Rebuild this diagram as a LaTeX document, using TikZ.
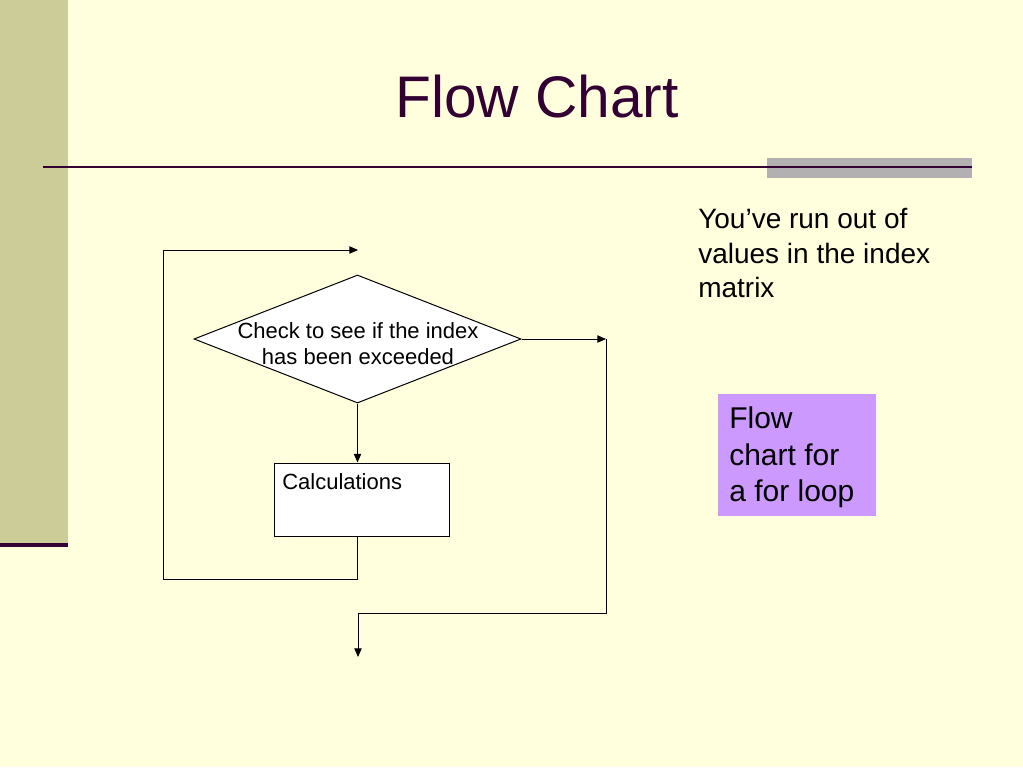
\documentclass[tikz,border=0pt]{standalone}
\usepackage{fontspec}
\setmainfont{Liberation Sans}
\usetikzlibrary{arrows.meta,shapes.geometric}
\definecolor{bgcream}{RGB}{255,255,221}
\definecolor{sidebar}{RGB}{204,204,153}
\definecolor{darkplum}{RGB}{51,0,51}
\definecolor{rulegray}{RGB}{178,176,176}
\definecolor{lilac}{RGB}{204,153,255}
\begin{document}
\begin{tikzpicture}[x=0.75pt,y=-0.75pt,
  conn/.style={line width=0.75pt,draw=black},
  arr/.style={conn,-{Triangle[length=6.5pt,width=5.5pt]}},
  flowtxt/.style={inner sep=0pt,font=\fontsize{16.5pt}{19.5pt}\selectfont},
  sidetxt/.style={inner sep=0pt,anchor=base west,font=\fontsize{21pt}{26pt}\selectfont},
  notetxt/.style={inner sep=0pt,anchor=base west,font=\fontsize{22.5pt}{27pt}\selectfont},
  decision/.style={diamond,draw=black,line width=0.75pt,fill=white,inner sep=0pt,
    minimum width=327*0.75pt,minimum height=128*0.75pt},
  process/.style={rectangle,draw=black,line width=0.75pt,fill=white,inner sep=0pt,
    minimum width=175*0.75pt,minimum height=73*0.75pt}]
% background and slide decoration
\useasboundingbox (0,0) rectangle (1023,767);
\fill[bgcream] (0,0) rectangle (1023,767);
\fill[sidebar] (0,0) rectangle (68,543);
\fill[darkplum] (0,543) rectangle (68,547);
\fill[rulegray] (767,158) rectangle (972,178);
\draw[darkplum,line width=1.5pt] (43,167) -- (972,167);
% title
\node[inner sep=0pt,anchor=base,text=darkplum,font=\fontsize{44pt}{53pt}\selectfont] (title) at (537,117) {Flow Chart};
% flow chart
\node[decision] (d) at (357.5,339) {};
\node[flowtxt,anchor=base] (dt1) at (358,338) {Check to see if the index};
\node[flowtxt,anchor=base] (dt2) at (358,364) {has been exceeded};
\node[process] (calc) at (361.5,499.5) {};
\node[flowtxt,anchor=base west] (calct) at (282,489) {Calculations};
\coordinate (c1) at (163,579);
\coordinate (top) at (358,250);
\coordinate (exitc) at (606,339);
\coordinate (c2) at (358,613);
\coordinate (endc) at (358,657);
\draw[arr] (d.south) -- (d.south |- calc.north);
\draw[arr] (d.south |- calc.south) |- (c1) |- (top);
\draw[arr] (d.east) -- (exitc);
\draw[arr] (exitc) |- (c2) -- (endc);
% side text
\node[sidetxt] (s1) at (698,228) {You’ve run out of};
\node[sidetxt] (s2) at (698,263) {values in the index};
\node[sidetxt] (s3) at (698,297) {matrix};
% note box
\node[fill=lilac,inner sep=0pt,minimum width=158*0.75pt,minimum height=122*0.75pt] (note) at (797,455) {};
\node[notetxt] (n1) at (729,428) {Flow};
\node[notetxt] (n2) at (729,465) {chart for};
\node[notetxt] (n3) at (729,501) {a for loop};
\end{tikzpicture}
\end{document}
